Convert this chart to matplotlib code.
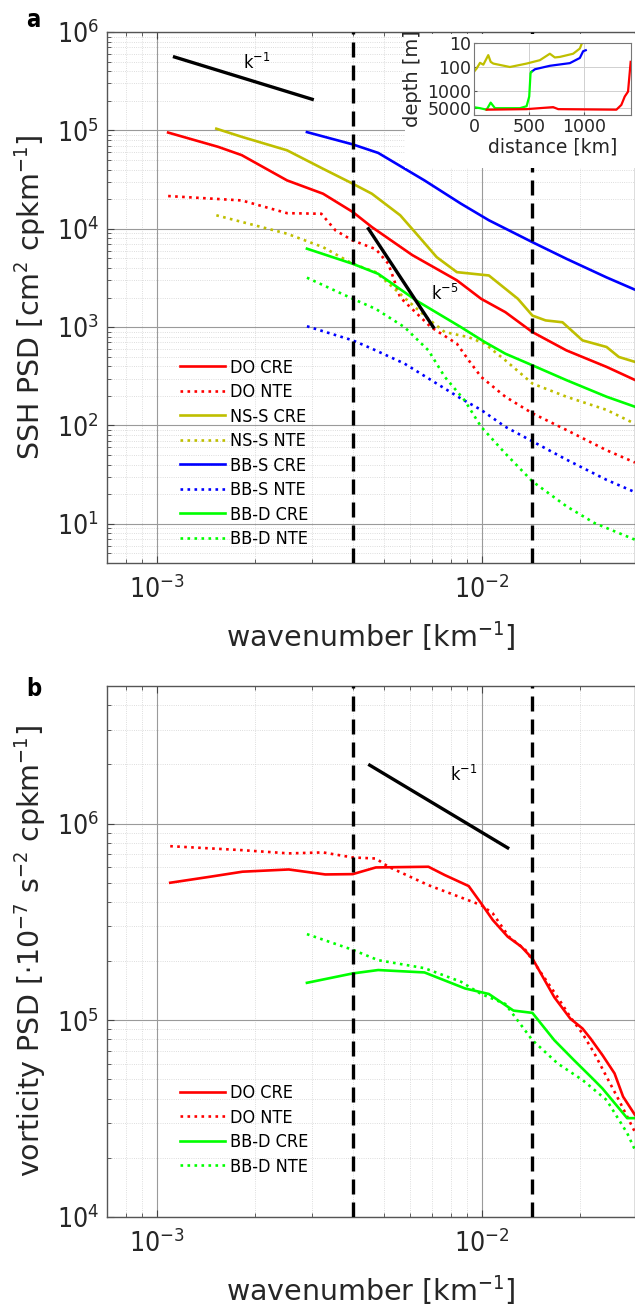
import matplotlib
matplotlib.use("Agg")
import matplotlib.pyplot as plt
from matplotlib.patches import Rectangle
from matplotlib.ticker import LogLocator, NullFormatter, FixedLocator, FixedFormatter

plt.rcParams['font.family'] = ['DejaVu Sans']
plt.rcParams['font.stretch'] = 'condensed'
plt.rcParams['mathtext.fontset'] = 'dejavusans'

# ---------------- panel a: SSH spectra ----------------
do_cre_k = [1.08e-3, 1.54e-3, 1.82e-3, 2.51e-3, 3.24e-3, 4.0e-3, 4.58e-3, 6.1e-3, 8.37e-3,
            9.94e-3, 1.18e-2, 1.43e-2, 1.82e-2, 2.42e-2, 2.96e-2]
do_cre_psd = [9.5e4, 6.8e4, 5.6e4, 3.1e4, 2.27e4, 1.48e4, 1.04e4, 5.4e3, 2.99e3,
              1.94e3, 1.42e3, 890, 580, 394, 290]

do_nte_k = [1.08e-3, 1.82e-3, 2.51e-3, 3.2e-3, 3.54e-3, 4.0e-3, 4.71e-3, 5.15e-3, 5.6e-3,
            6.96e-3, 8.37e-3, 9.1e-3, 9.94e-3, 1.18e-2, 1.43e-2, 1.82e-2, 2.42e-2, 2.96e-2]
do_nte_psd = [2.15e4, 1.94e4, 1.44e4, 1.42e4, 9.6e3, 7.6e3, 6.2e3, 4.4e3, 2.0e3,
              1000, 678, 460, 312, 196, 133, 90, 56, 42]

ns_cre_k = [1.52e-3, 1.83e-3, 2.51e-3, 3.24e-3, 4.0e-3, 4.58e-3, 5.6e-3, 6.28e-3, 7.25e-3,
            8.37e-3, 1.05e-2, 1.29e-2, 1.43e-2, 1.57e-2, 1.77e-2, 2.04e-2, 2.42e-2, 2.64e-2, 2.96e-2]
ns_cre_psd = [1.04e5, 8.55e4, 6.27e4, 4.07e4, 2.87e4, 2.27e4, 1.37e4, 8.9e3, 5.15e3,
              3.62e3, 3.35e3, 1.94e3, 1.31e3, 1.17e3, 1.12e3, 733, 628, 497, 443]

ns_nte_k = [1.52e-3, 2.51e-3, 3.24e-3, 4.0e-3, 4.71e-3, 5.77e-3, 6.84e-3, 7.68e-3, 9.1e-3,
            1.02e-2, 1.18e-2, 1.43e-2, 1.82e-2, 2.42e-2, 2.96e-2]
ns_nte_psd = [1.37e4, 8.9e3, 6.5e3, 4.4e3, 3.62e3, 1.99e3, 1.21e3, 890, 790,
              678, 460, 267, 196, 144, 104]

bbs_cre_k = [2.89e-3, 4.0e-3, 4.79e-3, 6.65e-3, 8.61e-3, 1.05e-2, 1.43e-2, 1.82e-2, 2.42e-2, 2.96e-2]
bbs_cre_psd = [9.6e4, 7.2e4, 5.9e4, 3.1e4, 1.8e4, 1.22e4, 7.3e3, 4.95e3, 3.2e3, 2.4e3]

bbs_nte_k = [2.89e-3, 4.0e-3, 4.58e-3, 5.77e-3, 7.25e-3, 8.61e-3, 9.94e-3, 1.18e-2, 1.43e-2,
             1.82e-2, 2.42e-2, 2.96e-2]
bbs_nte_psd = [1.02e3, 733, 604, 426, 267, 188, 144, 97, 69, 45, 28, 21]

bbd_cre_k = [2.89e-3, 4.0e-3, 4.79e-3, 6.3e-3, 8.61e-3, 1.02e-2, 1.18e-2, 1.43e-2, 1.82e-2, 2.42e-2, 2.96e-2]
bbd_cre_psd = [6.27e3, 4.4e3, 3.48e3, 1.85e3, 1000, 705, 537, 409, 289, 196, 155]

bbd_nte_k = [2.89e-3, 4.0e-3, 4.71e-3, 5.77e-3, 6.84e-3, 7.68e-3, 8.83e-3, 9.94e-3, 1.18e-2,
             1.43e-2, 1.82e-2, 2.22e-2, 2.96e-2]
bbd_nte_psd = [3.18e3, 1.94e3, 1.53e3, 1000, 580, 312, 181, 97, 52, 27, 15.1, 10.2, 6.9]

# reference slopes, panel a
slope1_a_k = [1.13e-3, 3.0e-3]
slope1_a_psd = [5.57e5, 2.07e5]
slope5_a_k = [4.47e-3, 7.08e-3]
slope5_a_psd = [1.0e4, 1.0e3]

# ---------------- inset: track depth ----------------
nss_dist = [0, 24, 55, 85, 130, 152, 176, 327, 479, 600, 691, 736, 782, 903, 964, 979]
nss_depth = [158, 115, 67, 80, 32, 61, 72, 100, 72, 52, 28, 40, 38, 28, 17, 11.4]
bbs_dist = [524, 555, 691, 873, 964, 994, 1018]
bbs_depth = [158, 124, 89, 69, 42, 22, 20]
bbd_dist = [0, 55, 115, 152, 191, 418, 479, 503, 515, 524]
bbd_depth = [4740, 5200, 6000, 3050, 5200, 5200, 4300, 1700, 180, 158]
do_dist = [115, 479, 721, 767, 1297, 1342, 1373, 1403, 1427]
do_depth = [6000, 5700, 4700, 5700, 6000, 3800, 1700, 1060, 61]

# ---------------- panel b: vorticity spectra ----------------
do_cre_b_k = [1.096e-3, 1.45e-3, 1.83e-3, 2.54e-3, 3.29e-3, 4.0e-3, 4.71e-3, 6.84e-3, 7.68e-3,
              9.1e-3, 9.94e-3, 1.08e-2, 1.2e-2, 1.32e-2, 1.43e-2, 1.67e-2, 1.87e-2, 2.04e-2,
              2.16e-2, 2.35e-2, 2.56e-2, 2.72e-2, 2.96e-2]
do_cre_b_psd = [5.0e5, 5.36e5, 5.69e5, 5.84e5, 5.51e5, 5.53e5, 5.98e5, 6.03e5, 5.47e5,
                4.81e5, 3.93e5, 3.23e5, 2.66e5, 2.37e5, 2.06e5, 1.31e5, 1.02e5, 9.08e4,
                8.07e4, 6.65e4, 5.37e4, 4.09e4, 3.3e4]

do_nte_b_k = [1.096e-3, 1.83e-3, 2.54e-3, 3.24e-3, 4.0e-3, 4.71e-3, 5.15e-3, 6.84e-3, 9.94e-3,
              1.08e-2, 1.21e-2, 1.36e-2, 1.43e-2, 1.71e-2, 1.87e-2, 2.04e-2, 2.22e-2, 2.42e-2,
              2.64e-2, 2.96e-2]
do_nte_b_psd = [7.67e5, 7.32e5, 7.05e5, 7.13e5, 6.72e5, 6.64e5, 6.03e5, 4.86e5, 3.85e5,
                3.49e5, 2.66e5, 2.28e5, 2.02e5, 1.31e5, 1.04e5, 8.56e4, 6.78e4, 5.16e4,
                3.93e4, 2.7e4]

bbd_cre_b_k = [2.89e-3, 4.0e-3, 4.79e-3, 6.65e-3, 8.88e-3, 1.05e-2, 1.25e-2, 1.43e-2, 1.67e-2,
               1.92e-2, 2.19e-2, 2.35e-2, 2.8e-2, 2.96e-2]
bbd_cre_b_psd = [1.55e5, 1.73e5, 1.8e5, 1.75e5, 1.45e5, 1.36e5, 1.12e5, 1.09e5, 7.92e4,
                 6.27e4, 5.06e4, 4.5e4, 3.18e4, 3.18e4]

bbd_nte_b_k = [2.89e-3, 4.0e-3, 4.79e-3, 6.65e-3, 8.61e-3, 9.94e-3, 1.18e-2, 1.43e-2, 1.71e-2,
               2.04e-2, 2.42e-2, 2.8e-2, 2.96e-2]
bbd_nte_b_psd = [2.74e5, 2.28e5, 2.02e5, 1.84e5, 1.57e5, 1.36e5, 1.21e5, 7.92e4, 6.03e4,
                 4.97e4, 3.93e4, 2.67e4, 2.19e4]

slope1_b_k = [4.51e-3, 1.2e-2]
slope1_b_psd = [1.98e6, 7.52e5]

# scale boundaries (250 km and 70 km)
cut_k = [1 / 250, 1 / 70]

RED, OLIVE, BLUE, GREEN = '#ff0000', '#bfbf00', '#0000ff', '#00ff00'
LW = 1.9
LABEL_FS = 20.5


def style_axes(ax, ylim):
    ax.set_xscale('log')
    ax.set_yscale('log')
    ax.set_xlim(7e-4, 0.0296)
    ax.set_ylim(*ylim)
    ax.grid(True, which='major', color='#9a9a9a', lw=0.8)
    ax.grid(True, which='minor', color='#d2d2d2', lw=0.6, ls=':')
    ax.xaxis.set_minor_locator(LogLocator(base=10, subs=range(2, 10), numticks=20))
    ax.yaxis.set_minor_locator(LogLocator(base=10, subs=range(2, 10), numticks=20))
    ax.xaxis.set_minor_formatter(NullFormatter())
    ax.yaxis.set_minor_formatter(NullFormatter())
    ax.tick_params(which='both', direction='in', top=True, colors='#444444',
                   labelcolor='#262626', labelsize=19)
    ax.tick_params(which='major', length=5)
    ax.tick_params(which='minor', length=3)
    ax.tick_params(axis='x', pad=9)
    ax.tick_params(axis='y', pad=6)
    for s in ax.spines.values():
        s.set_color('#555555')
        s.set_linewidth(1.0)
    for k in cut_k:
        ax.axvline(k, color='k', lw=2.4, ls=(0, (4.5, 2.4)), zorder=5)
    ax.set_xlabel('wavenumber [km$^{-1}$]', fontsize=LABEL_FS, color='#262626',
                  fontstretch='normal')
    ax.xaxis.set_label_coords(0.5, -0.105)


fig = plt.figure(figsize=(6.35, 13.07), dpi=100)

# ---- panel a ----
ax1 = fig.add_axes([107 / 635, 1 - 563 / 1307, 528 / 635, 531 / 1307])
style_axes(ax1, (4, 1e6))
ax1.plot(do_cre_k, do_cre_psd, color=RED, lw=LW, label='DO CRE')
ax1.plot(do_nte_k, do_nte_psd, color=RED, lw=LW, ls=':', label='DO NTE')
ax1.plot(ns_cre_k, ns_cre_psd, color=OLIVE, lw=LW, label='NS-S CRE')
ax1.plot(ns_nte_k, ns_nte_psd, color=OLIVE, lw=LW, ls=':', label='NS-S NTE')
ax1.plot(bbs_cre_k, bbs_cre_psd, color=BLUE, lw=LW, label='BB-S CRE')
ax1.plot(bbs_nte_k, bbs_nte_psd, color=BLUE, lw=LW, ls=':', label='BB-S NTE')
ax1.plot(bbd_cre_k, bbd_cre_psd, color=GREEN, lw=LW, label='BB-D CRE')
ax1.plot(bbd_nte_k, bbd_nte_psd, color=GREEN, lw=LW, ls=':', label='BB-D NTE')
ax1.plot(slope1_a_k, slope1_a_psd, color='k', lw=2.4)
ax1.plot(slope5_a_k, slope5_a_psd, color='k', lw=2.4)
ax1.text(2.02e-3, 4.8e5, 'k$^{-1}$', fontsize=13, ha='center', va='center')
ax1.text(6.95e-3, 2.15e3, 'k$^{-5}$', fontsize=13, ha='left', va='center')
ax1.set_ylabel('SSH PSD [cm$^2$ cpkm$^{-1}$]', fontsize=LABEL_FS, color='#262626',
               fontstretch='normal')
ax1.yaxis.set_label_coords(-0.112, 0.5)
ax1.legend(loc='upper left', bbox_to_anchor=(0.138, 0.385), frameon=False, fontsize=13,
           handlelength=2.5, handletextpad=0.25, labelspacing=0.36, borderpad=0,
           borderaxespad=0)
fig.text(33 / 635, 1 - 20 / 1307, 'a', fontsize=17, fontweight='bold', ha='center', va='center')

# white patch behind the inset
fig.add_artist(Rectangle((405 / 635, 1 - 168 / 1307), 230 / 635, 134 / 1307,
                         transform=fig.transFigure, facecolor='white', edgecolor='none',
                         zorder=1))

# ---- inset ----
axi = fig.add_axes([474 / 635, 1 - 115 / 1307, 157 / 635, 72 / 1307], zorder=2)
axi.plot(nss_dist, nss_depth, color=OLIVE, lw=1.6)
axi.plot(bbs_dist, bbs_depth, color=BLUE, lw=1.6)
axi.plot(bbd_dist, bbd_depth, color=GREEN, lw=1.6)
axi.plot(do_dist, do_depth, color=RED, lw=1.6)
axi.set_yscale('log')
axi.set_xlim(0, 1430)
axi.set_ylim(1e4, 10)
axi.yaxis.set_major_locator(FixedLocator([10, 100, 1000, 5000]))
axi.yaxis.set_major_formatter(FixedFormatter(['10', '100', '1000', '5000']))
axi.yaxis.set_minor_locator(FixedLocator([]))
axi.xaxis.set_major_locator(FixedLocator([0, 500, 1000]))
axi.grid(True, color='#d0d0d0', lw=0.7)
axi.tick_params(direction='in', length=2, labelsize=12.5, pad=2, colors='#555555',
                labelcolor='#262626')
for lab in axi.get_xticklabels() + axi.get_yticklabels():
    lab.set_fontstretch('normal')
for s in axi.spines.values():
    s.set_color('#777777')
    s.set_linewidth(0.8)
axi.set_xlabel('distance [km]', fontsize=13.5, color='#262626', labelpad=1,
               fontstretch='normal')
axi.set_ylabel('depth [m]', fontsize=14, color='#262626', labelpad=4,
               fontstretch='normal')

# ---- panel b ----
ax2 = fig.add_axes([107 / 635, 1 - 1217 / 1307, 528 / 635, 531 / 1307])
style_axes(ax2, (1e4, 5e6))
ax2.plot(do_cre_b_k, do_cre_b_psd, color=RED, lw=LW, label='DO CRE')
ax2.plot(do_nte_b_k, do_nte_b_psd, color=RED, lw=LW, ls=':', label='DO NTE')
ax2.plot(bbd_cre_b_k, bbd_cre_b_psd, color=GREEN, lw=LW, label='BB-D CRE')
ax2.plot(bbd_nte_b_k, bbd_nte_b_psd, color=GREEN, lw=LW, ls=':', label='BB-D NTE')
ax2.plot(slope1_b_k, slope1_b_psd, color='k', lw=2.4)
ax2.text(8.75e-3, 1.76e6, 'k$^{-1}$', fontsize=13, ha='center', va='center')
ax2.set_ylabel(r'vorticity PSD [$\cdot$10$^{-7}$ s$^{-2}$ cpkm$^{-1}$]', fontsize=LABEL_FS,
               color='#262626', fontstretch='normal')
ax2.yaxis.set_label_coords(-0.112, 0.5)
ax2.legend(loc='upper left', bbox_to_anchor=(0.138, 0.25), frameon=False, fontsize=13,
           handlelength=2.5, handletextpad=0.25, labelspacing=0.36, borderpad=0,
           borderaxespad=0)
fig.text(34 / 635, 1 - 689 / 1307, 'b', fontsize=17, fontweight='bold', ha='center', va='center')

fig.savefig('out.png', dpi=100)
